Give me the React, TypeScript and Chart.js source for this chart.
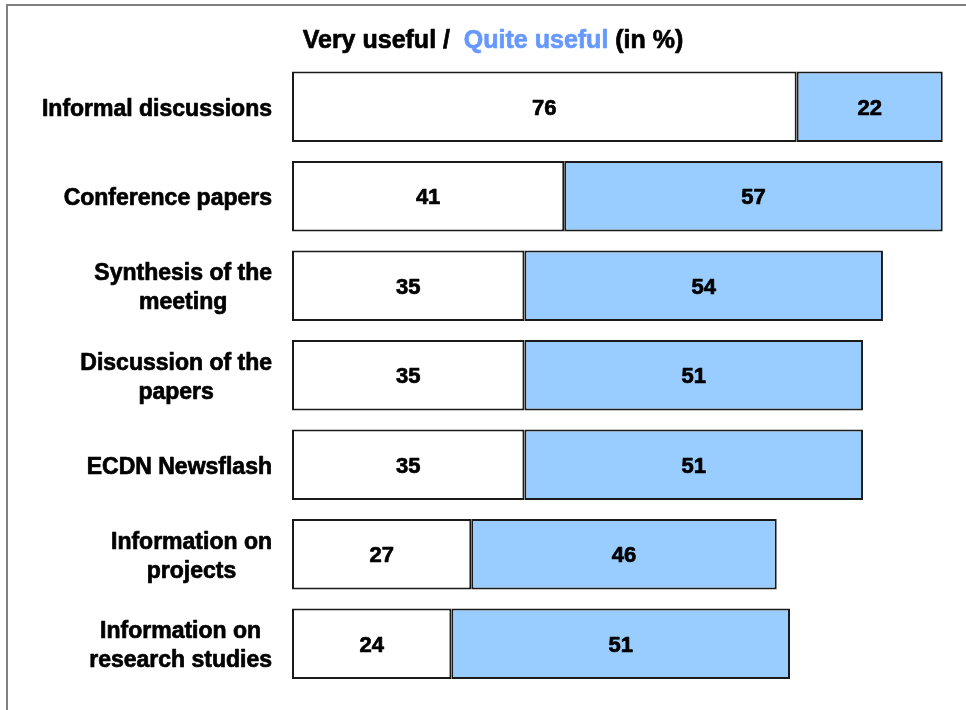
import React, { useEffect, useRef } from "react";
import { Chart, registerables } from "chart.js";

Chart.register(...registerables);

const categories: string[][] = [
  ["Informal discussions"],
  ["Conference papers"],
  ["Synthesis of the", "meeting"],
  ["Discussion of the", "papers"],
  ["ECDN Newsflash"],
  ["Information on", "projects"],
  ["Information on", "research studies"],
];
const veryUseful = [76, 41, 35, 35, 35, 27, 24];
const quiteUseful = [22, 57, 54, 51, 51, 46, 51];
const titleParts = [
  { text: "Very useful /  ", color: "#000000" },
  { text: "Quite useful", color: "#6699FF" },
  { text: " (in %)", color: "#000000" },
];

const FONT = '"Liberation Sans", Arial, sans-serif';

function heavyText(ctx: any, text: string, x: number, y: number, color: string) {
  ctx.fillStyle = color;
  ctx.strokeStyle = color;
  ctx.lineWidth = 0.7;
  ctx.lineJoin = "round";
  ctx.fillText(text, x, y);
  ctx.strokeText(text, x, y);
}

const framePlugin = {
  id: "frame",
  beforeDraw(chart: any) {
    const ctx = chart.ctx;
    ctx.save();
    ctx.fillStyle = "#ffffff";
    ctx.fillRect(0, 0, chart.width, chart.height);
    ctx.strokeStyle = "#808080";
    ctx.lineWidth = 2;
    ctx.beginPath();
    ctx.moveTo(7, chart.height + 2);
    ctx.lineTo(7, 5);
    ctx.lineTo(chart.width + 2, 5);
    ctx.stroke();
    ctx.restore();
  },
};

const textPlugin = {
  id: "texts",
  afterDraw(chart: any) {
    const ctx = chart.ctx;
    ctx.save();
    // title
    ctx.font = `bold 25px ${FONT}`;
    ctx.textBaseline = "middle";
    ctx.textAlign = "left";
    const total = titleParts.reduce((s, p) => s + ctx.measureText(p.text).width, 0);
    let tx = 493 - total / 2;
    for (const p of titleParts) {
      heavyText(ctx, p.text, tx, 41, p.color);
      tx += ctx.measureText(p.text).width;
    }
    // y labels
    const yScale = chart.scales.y;
    ctx.font = `bold 23px ${FONT}`;
    ctx.textAlign = "center";
    const lh = 29;
    categories.forEach((lines, i) => {
      const yc = yScale.getPixelForValue(i);
      const w = Math.max(...lines.map((l) => ctx.measureText(l).width));
      const cx = chart.chartArea.left - 20 - w / 2;
      lines.forEach((l, j) => {
        const y = yc + (j - (lines.length - 1) / 2) * lh;
        heavyText(ctx, l, cx, y + 2.5, "#000");
      });
    });
    // value labels
    ctx.font = `bold 22px ${FONT}`;
    chart.data.datasets.forEach((ds: any, di: number) => {
      const meta = chart.getDatasetMeta(di);
      meta.data.forEach((bar: any, i: number) => {
        const cx = (bar.x + bar.base) / 2;
        heavyText(ctx, String(ds.data[i]), cx, bar.y + 2, "#000");
      });
    });
    ctx.restore();
  },
};

export default function App() {
  const ref = useRef<HTMLCanvasElement>(null);
  useEffect(() => {
    const chart = new Chart(ref.current!, {
      type: "bar",
      data: {
        labels: categories.map((c) => c.join(" ")),
        datasets: [
          {
            label: "Very useful",
            data: veryUseful,
            backgroundColor: "#FFFFFF",
            borderColor: "#1a1a1a",
            borderWidth: 2,
            borderSkipped: false,
          },
          {
            label: "Quite useful",
            data: quiteUseful,
            backgroundColor: "#99CCFF",
            borderColor: "#1a1a1a",
            borderWidth: 2,
            borderSkipped: false,
          },
        ],
      },
      options: {
        indexAxis: "y",
        animation: false,
        responsive: false,
        maintainAspectRatio: false,
        datasets: { bar: { barPercentage: 0.785, categoryPercentage: 1 } },
        layout: { padding: { top: 62, bottom: 21.5, right: 10, left: 0 } },
        plugins: { legend: { display: false }, tooltip: { enabled: false }, title: { display: false } },
        scales: {
          x: { stacked: true, min: 0, max: 100, display: false },
          y: {
            stacked: true,
            grid: { display: false },
            border: { display: false },
            ticks: { display: false },
            afterFit: (axis: any) => {
              axis.width = 292;
            },
          },
        },
      },
      plugins: [framePlugin, textPlugin],
    });
    return () => chart.destroy();
  }, []);
  return (
    <div style={{ position: "absolute", left: 0, top: 0, width: 966, height: 710, background: "#fff" }}>
      <canvas ref={ref} width={966} height={710} style={{ display: "block" }} />
    </div>
  );
}
